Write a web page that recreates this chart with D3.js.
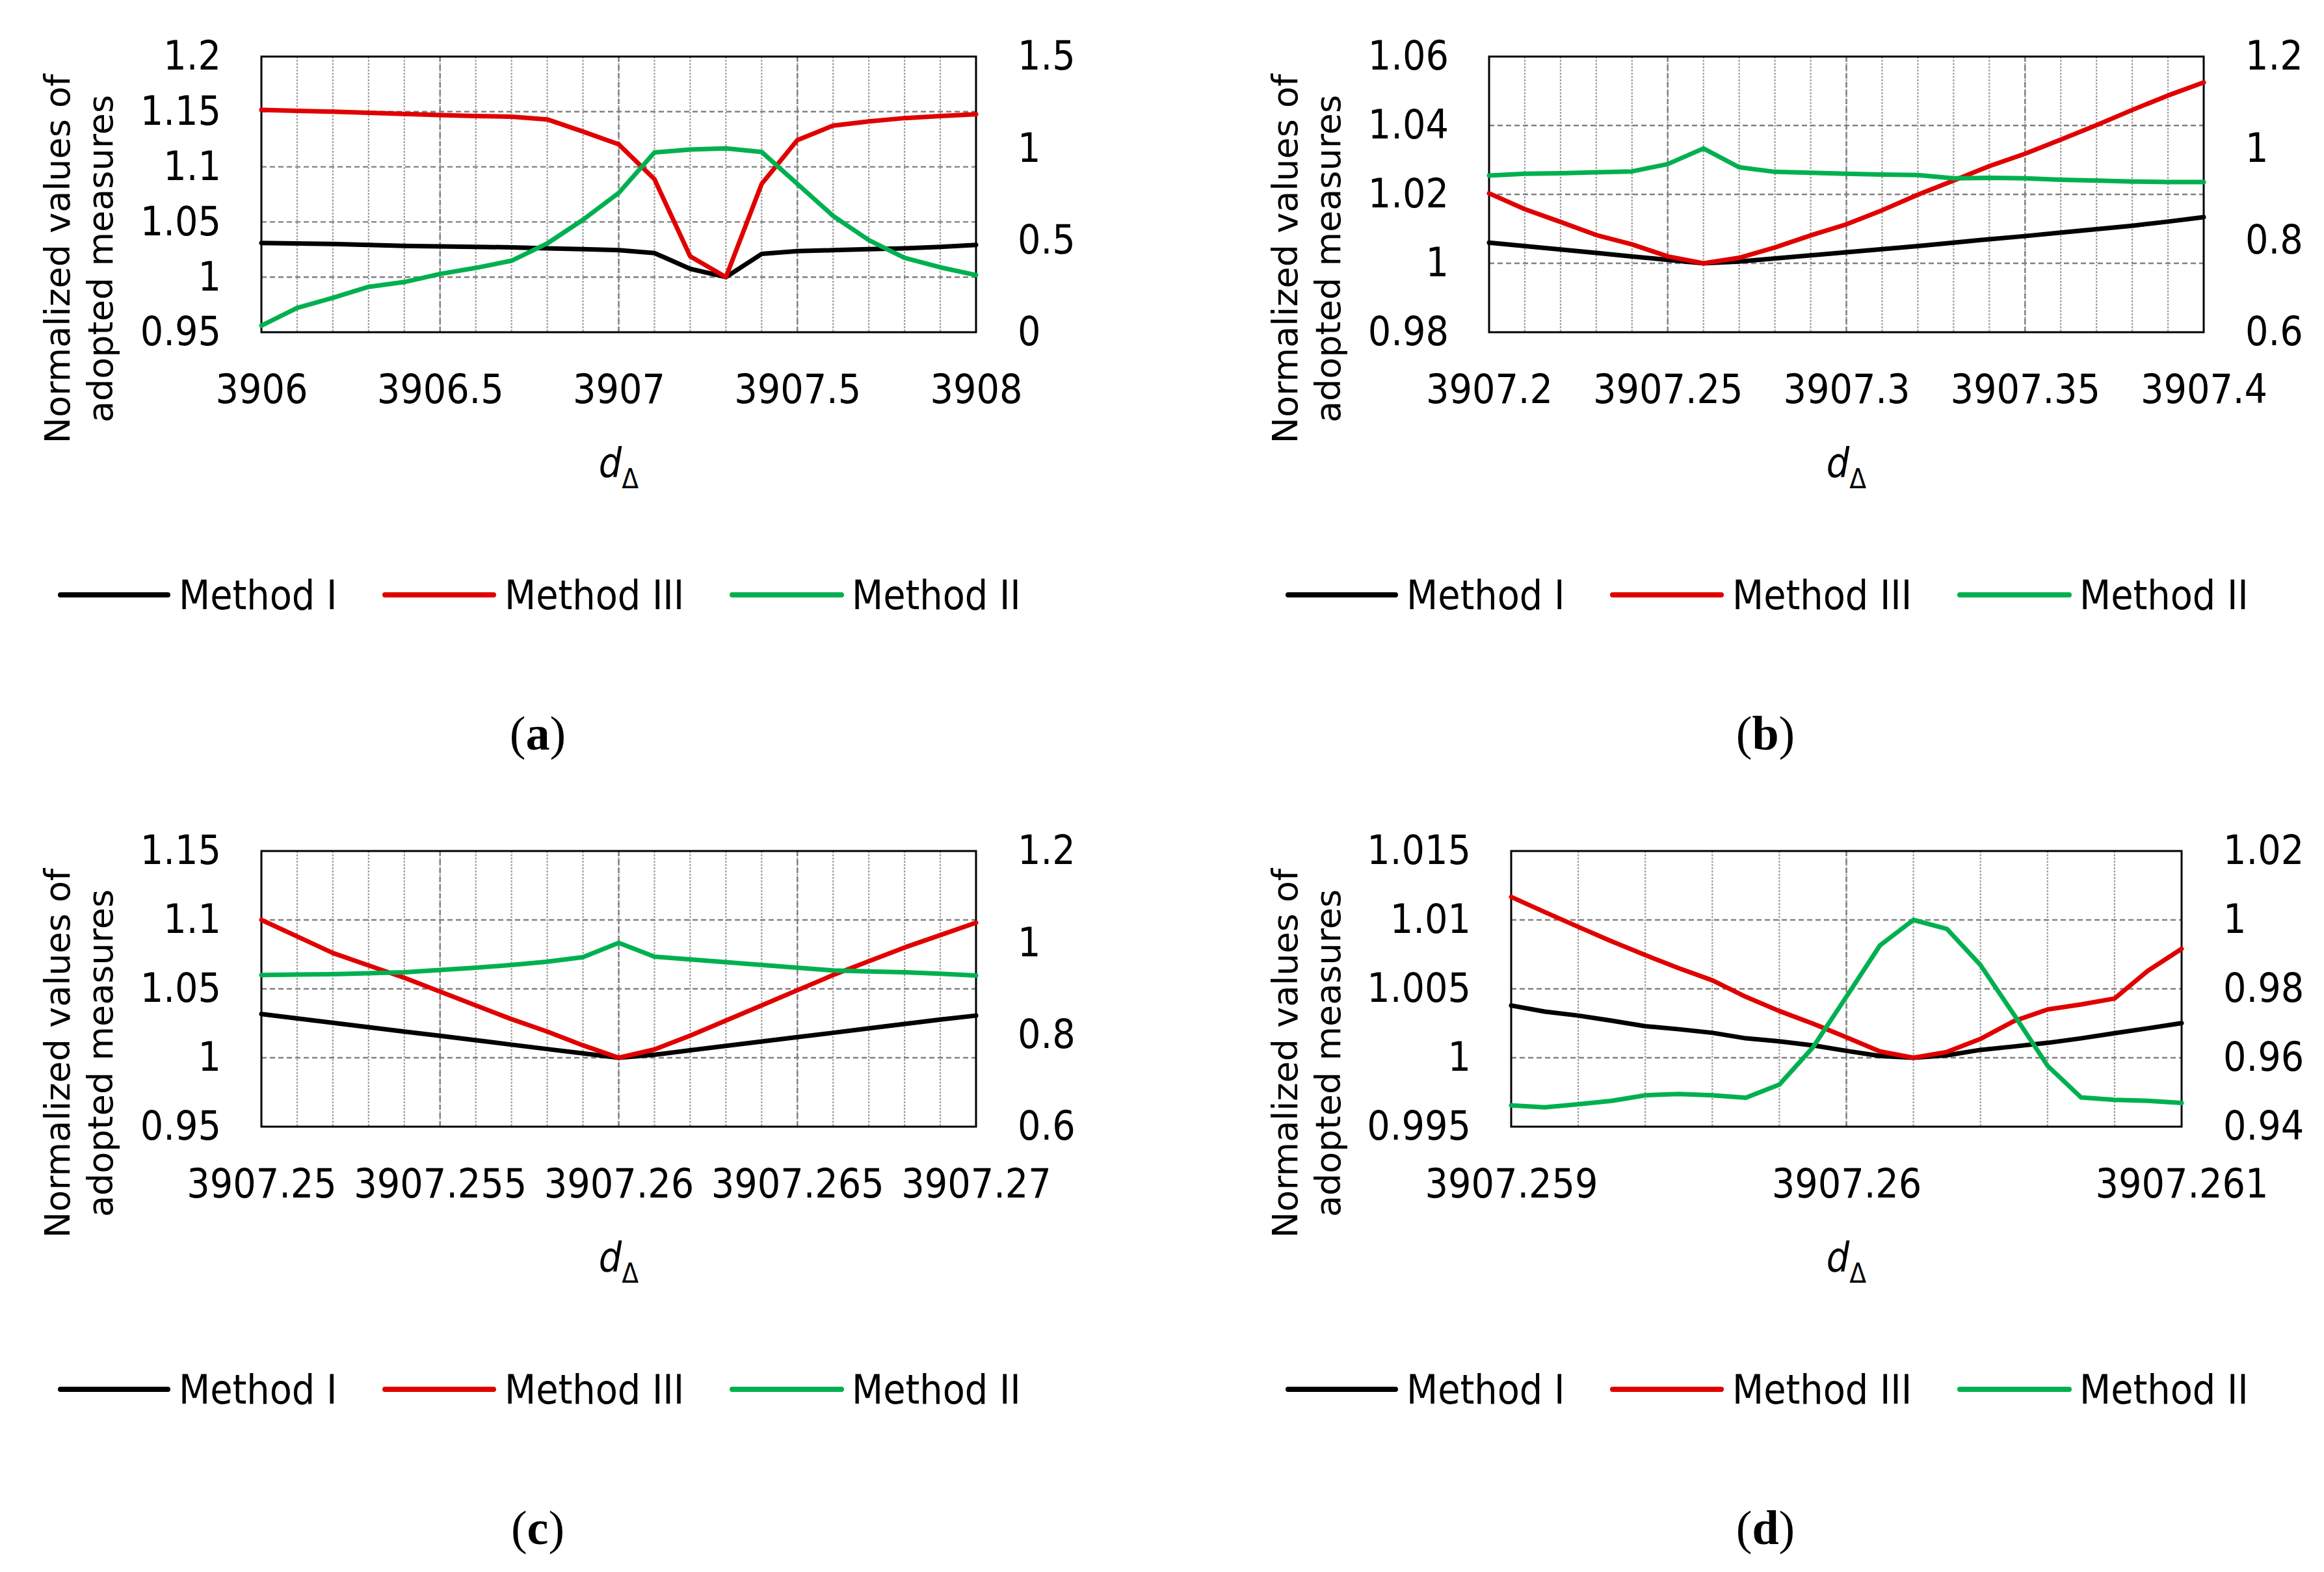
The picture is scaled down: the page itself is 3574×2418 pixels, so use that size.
<!DOCTYPE html>
<html>
<head>
<meta charset="utf-8">
<script src="https://cdn.jsdelivr.net/npm/d3@7"></script>
<style>
  body { margin: 0; background: #fff; }
</style>
</head>
<body>
<div id="chart"></div>
<script>
// ---- data ----
const seriesNames = ['Method I', 'Method III', 'Method II']
const seriesColors = ['#000000', '#e00000', '#00b050']

// (a)
const xA = [3906, 3906.1, 3906.2, 3906.3, 3906.4, 3906.5, 3906.6, 3906.7, 3906.8, 3906.9, 3907,
  3907.1, 3907.2, 3907.3, 3907.4, 3907.5, 3907.6, 3907.7, 3907.8, 3907.9, 3908]
const aMethodI = [1.0309, 1.0305, 1.0300, 1.0292, 1.0283, 1.0279, 1.0274, 1.0270, 1.0261, 1.0253, 1.0244,
  1.0218, 1.0075, 1.0000, 1.0210, 1.0235, 1.0244, 1.0253, 1.0261, 1.0274, 1.0292]
const aMethodIII = [1.1516, 1.1507, 1.1500, 1.1490, 1.1480, 1.1470, 1.1460, 1.1455, 1.1430, 1.1320, 1.1204,
  1.0888, 1.0188, 1.0000, 1.0845, 1.1243, 1.1373, 1.1412, 1.1442, 1.1460, 1.1477]
const aMethodII = [0.036, 0.132, 0.187, 0.247, 0.273, 0.317, 0.350, 0.389, 0.483, 0.612, 0.758,
  0.978, 0.994, 1.000, 0.981, 0.807, 0.633, 0.501, 0.405, 0.353, 0.311]
const aXTicks = [3906, 3906.5, 3907, 3907.5, 3908]
const aLeftTicks = [0.95, 1, 1.05, 1.1, 1.15, 1.2]
const aRightTicks = [0, 0.5, 1, 1.5]

// (b)
const xB = [3907.2, 3907.21, 3907.22, 3907.23, 3907.24, 3907.25, 3907.26, 3907.27, 3907.28, 3907.29, 3907.3,
  3907.31, 3907.32, 3907.33, 3907.34, 3907.35, 3907.36, 3907.37, 3907.38, 3907.39, 3907.4]
const bMethodI = [1.0060, 1.0050, 1.0040, 1.0030, 1.0020, 1.0010, 1.0000, 1.0005, 1.0014, 1.0023, 1.0032,
  1.0041, 1.0050, 1.0060, 1.0070, 1.0079, 1.0089, 1.0099, 1.0109, 1.0121, 1.0134]
const bMethodIII = [1.0203, 1.0157, 1.0120, 1.0082, 1.0055, 1.0020, 1.0000, 1.0016, 1.0046, 1.0081, 1.0113,
  1.0154, 1.0199, 1.0240, 1.0282, 1.0318, 1.0359, 1.0401, 1.0445, 1.0487, 1.0525]
const bMethodII = [0.941, 0.945, 0.946, 0.948, 0.950, 0.966, 1.000, 0.959, 0.949, 0.947, 0.945,
  0.943, 0.942, 0.935, 0.936, 0.935, 0.932, 0.930, 0.928, 0.927, 0.927]
const bXTicks = [3907.2, 3907.25, 3907.3, 3907.35, 3907.4]
const bLeftTicks = [0.98, 1, 1.02, 1.04, 1.06]
const bRightTicks = [0.6, 0.8, 1, 1.2]

// (c)
const xC = [3907.25, 3907.251, 3907.252, 3907.253, 3907.254, 3907.255, 3907.256, 3907.257, 3907.258, 3907.259, 3907.26,
  3907.261, 3907.262, 3907.263, 3907.264, 3907.265, 3907.266, 3907.267, 3907.268, 3907.269, 3907.27]
const cMethodI = [1.0317, 1.0285, 1.0254, 1.0222, 1.0190, 1.0159, 1.0127, 1.0095, 1.0063, 1.0032, 1.0000,
  1.0022, 1.0054, 1.0086, 1.0118, 1.0150, 1.0181, 1.0213, 1.0245, 1.0277, 1.0306]
const cMethodIII = [1.100, 1.088, 1.076, 1.067, 1.058, 1.048, 1.038, 1.028, 1.019, 1.009, 1.000,
  1.006, 1.016, 1.027, 1.038, 1.049, 1.060, 1.070, 1.080, 1.089, 1.098]
const cMethodII = [0.930, 0.931, 0.932, 0.934, 0.936, 0.941, 0.946, 0.952, 0.959, 0.969, 1.000,
  0.970, 0.964, 0.958, 0.952, 0.946, 0.940, 0.938, 0.936, 0.933, 0.929]
const cXTicks = [3907.25, 3907.255, 3907.26, 3907.265, 3907.27]
const cLeftTicks = [0.95, 1, 1.05, 1.1, 1.15]
const cRightTicks = [0.6, 0.8, 1, 1.2]

// (d)
const xD = [3907.259, 3907.2591, 3907.2592, 3907.2593, 3907.2594, 3907.2595, 3907.2596, 3907.2597, 3907.2598, 3907.2599, 3907.26,
  3907.2601, 3907.2602, 3907.2603, 3907.2604, 3907.2605, 3907.2606, 3907.2607, 3907.2608, 3907.2609, 3907.261]
const dMethodI = [1.00379, 1.00335, 1.00306, 1.00269, 1.00229, 1.00207, 1.00181, 1.00141, 1.00119, 1.00090, 1.00050,
  1.00013, 1.00000, 1.00018, 1.00057, 1.00082, 1.00108, 1.00141, 1.00178, 1.00214, 1.00251]
const dMethodIII = [1.01167, 1.01057, 1.00950, 1.00844, 1.00745, 1.00650, 1.00562, 1.00442, 1.00339, 1.00248, 1.00149,
  1.00046, 1.00000, 1.00042, 1.00137, 1.00266, 1.00350, 1.00387, 1.00430, 1.00632, 1.00790]
const dMethodII = [0.9462, 0.9456, 0.9465, 0.9475, 0.9491, 0.9495, 0.9491, 0.9484, 0.9522, 0.9630, 0.9777,
  0.9926, 1.0000, 0.9974, 0.9869, 0.9725, 0.9577, 0.9485, 0.9478, 0.9475, 0.9469]
const dXTicks = [3907.259, 3907.26, 3907.261]
const dLeftTicks = [0.995, 1, 1.005, 1.01, 1.015]
const dRightTicks = [0.94, 0.96, 0.98, 1, 1.02]

// ---- layout ----
const W = 3574
const H = 2418
const tickFont = "'Liberation Sans Narrow', 'DejaVu Sans Condensed', sans-serif"
const tickSize = 62

const panels = [
  { label: 'a', ox: 0, oy: 0, left: 402, right: 1501, x: xA, series: [aMethodI, aMethodIII, aMethodII],
    xTicks: aXTicks, leftTicks: aLeftTicks, rightTicks: aRightTicks, minorSteps: 20 },
  { label: 'b', ox: 1888, oy: 0, left: 2290, right: 3389, x: xB, series: [bMethodI, bMethodIII, bMethodII],
    xTicks: bXTicks, leftTicks: bLeftTicks, rightTicks: bRightTicks, minorSteps: 20 },
  { label: 'c', ox: 0, oy: 1222, left: 402, right: 1501, x: xC, series: [cMethodI, cMethodIII, cMethodII],
    xTicks: cXTicks, leftTicks: cLeftTicks, rightTicks: cRightTicks, minorSteps: 20 },
  { label: 'd', ox: 1888, oy: 1222, left: 2324, right: 3355, x: xD, series: [dMethodI, dMethodIII, dMethodII],
    xTicks: dXTicks, leftTicks: dLeftTicks, rightTicks: dRightTicks, minorSteps: 10 }
]

const svg = d3
  .select('#chart')
  .append('svg')
  .attr('width', W)
  .attr('height', H)

svg.append('rect').attr('width', W).attr('height', H).attr('fill', '#fff')

panels.forEach(drawPanel)

function drawPanel(p) {
  const top = 87 + p.oy
  const bottom = 511 + p.oy
  const g = svg.append('g')

  const xExtent = d3.extent(p.xTicks)
  const xScale = d3.scaleLinear().domain(xExtent).range([p.left, p.right])
  const yLeft = d3.scaleLinear()
    .domain(d3.extent(p.leftTicks))
    .range([bottom, top])
  const yRight = d3.scaleLinear()
    .domain(d3.extent(p.rightTicks))
    .range([bottom, top])

  // minor vertical gridlines
  const step = (xExtent[1] - xExtent[0]) / p.minorSteps
  const minor = d3.range(1, p.minorSteps).map(i => xExtent[0] + i * step)
  g.selectAll('.minor')
    .data(minor)
    .enter()
    .append('line')
    .attr('x1', d => xScale(d))
    .attr('x2', d => xScale(d))
    .attr('y1', top)
    .attr('y2', bottom)
    .attr('stroke', '#a0a0a0')
    .attr('stroke-width', 2.2)
    .attr('stroke-dasharray', '3,2')

  // major gridlines
  g.selectAll('.vmajor')
    .data(p.xTicks.slice(1, -1))
    .enter()
    .append('line')
    .attr('x1', d => xScale(d))
    .attr('x2', d => xScale(d))
    .attr('y1', top)
    .attr('y2', bottom)
    .attr('stroke', '#808080')
    .attr('stroke-width', 2.4)
    .attr('stroke-dasharray', '8,5')

  g.selectAll('.hmajor')
    .data(p.leftTicks.slice(1, -1))
    .enter()
    .append('line')
    .attr('x1', p.left)
    .attr('x2', p.right)
    .attr('y1', d => yLeft(d))
    .attr('y2', d => yLeft(d))
    .attr('stroke', '#808080')
    .attr('stroke-width', 2.4)
    .attr('stroke-dasharray', '8,5')

  g.append('rect')
    .attr('x', p.left)
    .attr('y', top)
    .attr('width', p.right - p.left)
    .attr('height', bottom - top)
    .attr('fill', 'none')
    .attr('stroke', '#000')
    .attr('stroke-width', 3)

  // axes
  const fmt = d => String(d)
  const leftAxis = d3.axisLeft(yLeft).tickValues(p.leftTicks).tickSize(0).tickPadding(62).tickFormat(fmt)
  const rightAxis = d3.axisRight(yRight).tickValues(p.rightTicks).tickSize(0).tickPadding(64).tickFormat(fmt)
  const bottomAxis = d3.axisBottom(xScale).tickValues(p.xTicks).tickSize(0).tickPadding(65).tickFormat(fmt)

  const axL = g.append('g').attr('transform', `translate(${p.left},0)`).call(leftAxis)
  const axR = g.append('g').attr('transform', `translate(${p.right},0)`).call(rightAxis)
  const axB = g.append('g').attr('transform', `translate(0,${bottom})`).call(bottomAxis)
  ;[axL, axR, axB].forEach(ax => {
    ax.select('.domain').remove()
    ax.attr('font-family', null).attr('font-size', null)
    ax.selectAll('text')
      .attr('font-family', tickFont)
      .attr('font-size', tickSize)
      .attr('fill', '#000')
  })

  // lines
  const scales = [yLeft, yLeft, yRight]
  p.series.forEach((vals, si) => {
    const line = d3.line()
      .x((d, i) => xScale(p.x[i]))
      .y(d => scales[si](d))
    g.append('path')
      .datum(vals)
      .attr('d', line)
      .attr('fill', 'none')
      .attr('stroke', seriesColors[si])
      .attr('stroke-width', 7)
      .attr('stroke-linejoin', 'round')
      .attr('stroke-linecap', 'round')
  })

  // y axis title
  const titleFont = "'DejaVu Sans', Verdana, sans-serif"
  const ty = 398 + p.oy
  ;[['Normalized values of', 107], ['adopted measures', 173]].forEach(([t, bx]) => {
    g.append('text')
      .attr('transform', `translate(${bx + p.ox},${ty}) rotate(-90)`)
      .attr('text-anchor', 'middle')
      .attr('font-family', titleFont)
      .attr('font-size', 54)
      .text(t)
  })

  // x axis title
  const xt = g.append('text')
    .attr('x', (p.left + p.right) / 2)
    .attr('y', 733 + p.oy)
    .attr('text-anchor', 'middle')
    .attr('font-family', tickFont)
    .attr('font-size', 62)
  xt.append('tspan').attr('font-style', 'italic').text('d')
  xt.append('tspan').attr('font-size', 42).attr('dy', 18).text('Δ')

  // legend
  const legendLines = [[93, 258], [592, 759], [1126, 1294]]
  const legendText = [275, 776, 1310]
  const ly = 915 + p.oy
  seriesNames.forEach((name, i) => {
    g.append('line')
      .attr('x1', legendLines[i][0] + p.ox)
      .attr('x2', legendLines[i][1] + p.ox)
      .attr('y1', ly)
      .attr('y2', ly)
      .attr('stroke', seriesColors[i])
      .attr('stroke-width', 8)
      .attr('stroke-linecap', 'round')
    g.append('text')
      .attr('x', legendText[i] + p.ox)
      .attr('y', ly + 22)
      .attr('font-family', tickFont)
      .attr('font-size', tickSize)
      .text(name)
  })

  // panel label
  const sl = g.append('text')
    .attr('x', 827 + p.ox)
    .attr('y', 1153 + p.oy)
    .attr('text-anchor', 'middle')
    .attr('font-family', "'Liberation Serif', 'DejaVu Serif', serif")
    .attr('font-size', 74)
  sl.append('tspan').text('(')
  sl.append('tspan').attr('font-weight', 'bold').text(p.label)
  sl.append('tspan').text(')')
}
</script>
</body>
</html>
